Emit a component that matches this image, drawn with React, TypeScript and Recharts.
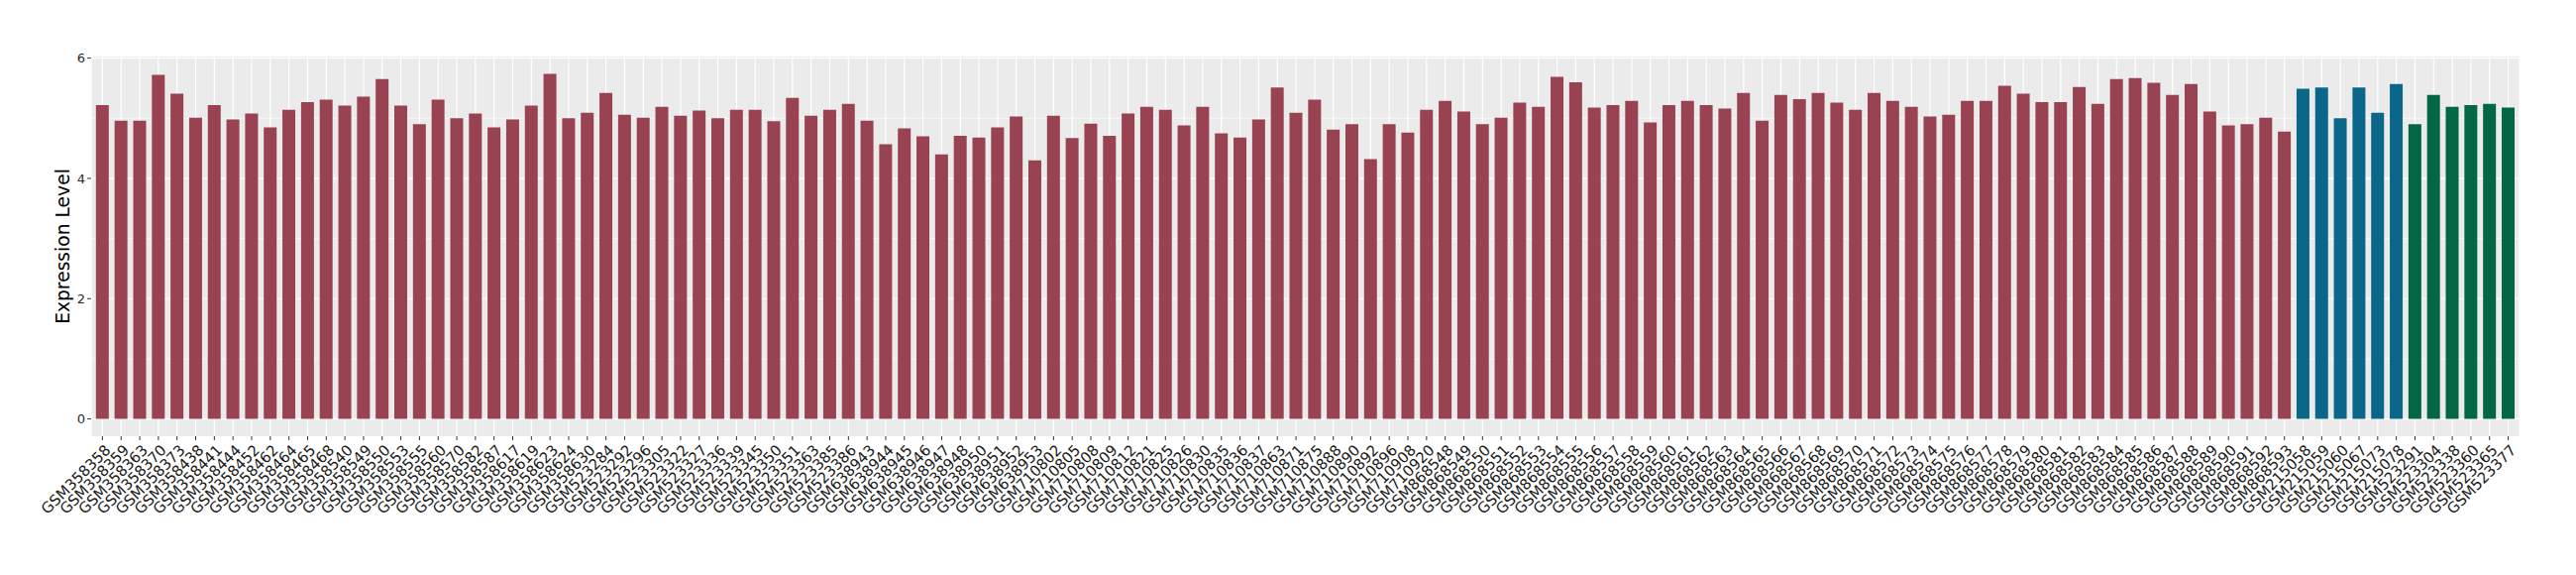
import { BarChart, Bar, XAxis, YAxis, CartesianGrid, Cell } from "recharts";

// sample ids per group, in plotting order
const redSamples = [
  "GSM358358", "GSM358359", "GSM358363", "GSM358370", "GSM358373", "GSM358438",
  "GSM358441", "GSM358444", "GSM358452", "GSM358462", "GSM358464", "GSM358465",
  "GSM358468", "GSM358540", "GSM358549", "GSM358550", "GSM358553", "GSM358555",
  "GSM358560", "GSM358570", "GSM358582", "GSM358587", "GSM358617", "GSM358619",
  "GSM358623", "GSM358624", "GSM358630",
  "GSM523284", "GSM523292", "GSM523296", "GSM523305", "GSM523322", "GSM523327",
  "GSM523336", "GSM523339", "GSM523345", "GSM523350", "GSM523351", "GSM523363",
  "GSM523385", "GSM523386",
  "GSM638943", "GSM638944", "GSM638945", "GSM638946", "GSM638947", "GSM638948",
  "GSM638950", "GSM638951", "GSM638952", "GSM638953",
  "GSM710802", "GSM710805", "GSM710808", "GSM710809", "GSM710812", "GSM710821",
  "GSM710825", "GSM710826", "GSM710830", "GSM710835", "GSM710836", "GSM710837",
  "GSM710863", "GSM710871", "GSM710875", "GSM710888", "GSM710890", "GSM710892",
  "GSM710896", "GSM710908", "GSM710920",
  "GSM868548", "GSM868549", "GSM868550", "GSM868551", "GSM868552", "GSM868553",
  "GSM868554", "GSM868555", "GSM868556", "GSM868557", "GSM868558", "GSM868559",
  "GSM868560", "GSM868561", "GSM868562", "GSM868563", "GSM868564", "GSM868565",
  "GSM868566", "GSM868567", "GSM868568", "GSM868569", "GSM868570", "GSM868571",
  "GSM868572", "GSM868573", "GSM868574", "GSM868575", "GSM868576", "GSM868577",
  "GSM868578", "GSM868579", "GSM868580", "GSM868581", "GSM868582", "GSM868583",
  "GSM868584", "GSM868585", "GSM868586", "GSM868587", "GSM868588", "GSM868589",
  "GSM868590", "GSM868591", "GSM868592", "GSM868593",
];
const redValues = [
  5.22, 4.96, 4.96, 5.72, 5.41, 5.01, 5.22, 4.98, 5.08, 4.85, 5.14, 5.27,
  5.31, 5.21, 5.36, 5.65, 5.21, 4.9, 5.31, 5.0, 5.08, 4.85, 4.98, 5.21,
  5.74, 5.0, 5.09,
  5.42, 5.06, 5.01, 5.19, 5.04, 5.13, 5.0, 5.14, 5.14, 4.95, 5.34, 5.04,
  5.14, 5.24,
  4.96, 4.57, 4.83, 4.7, 4.4, 4.71, 4.68, 4.85, 5.03, 4.3,
  5.04, 4.67, 4.91, 4.71, 5.08, 5.19, 5.14, 4.88, 5.19, 4.75, 4.68, 4.98,
  5.51, 5.09, 5.31, 4.81, 4.9, 4.32, 4.9, 4.76, 5.14,
  5.29, 5.11, 4.9, 5.01, 5.26, 5.19, 5.69, 5.6, 5.18, 5.22, 5.29, 4.93,
  5.22, 5.29, 5.22, 5.16, 5.42, 4.96, 5.39, 5.32, 5.42, 5.26, 5.14, 5.42,
  5.29, 5.19, 5.03, 5.06, 5.29, 5.29, 5.54, 5.41, 5.27, 5.27, 5.52, 5.24,
  5.65, 5.67, 5.59, 5.39, 5.57, 5.11, 4.88, 4.9, 5.01, 4.78,
];
const blueSamples = ["GSM215058", "GSM215059", "GSM215060", "GSM215067", "GSM215073", "GSM215078"];
const blueValues = [5.49, 5.51, 5.0, 5.51, 5.09, 5.57];
const greenSamples = ["GSM523291", "GSM523304", "GSM523338", "GSM523360", "GSM523365", "GSM523377"];
const greenValues = [4.9, 5.39, 5.19, 5.22, 5.24, 5.18];

const yTicks = [0, 2, 4, 6];
const minorTicks = [1, 3, 5];

const GROUP_COLORS: Record<string, string> = {
  red: "#994251",
  blue: "#0A6789",
  green: "#036745",
};

const data = [
  ...redSamples.map((sample, i) => ({ sample, value: redValues[i], group: "red" })),
  ...blueSamples.map((sample, i) => ({ sample, value: blueValues[i], group: "blue" })),
  ...greenSamples.map((sample, i) => ({ sample, value: greenValues[i], group: "green" })),
];

const FONT = "'DejaVu Sans', 'Liberation Sans', Arial, sans-serif";

function SampleTick({ x, y, payload }: any) {
  return (
    <g transform={`translate(${x + 9},${y + 9})`}>
      <text
        transform="rotate(-45)"
        textAnchor="end"
        fontSize={15}
        fontFamily={FONT}
        fill="#1a1a1a"
      >
        {payload.value}
      </text>
    </g>
  );
}

export default function App() {
  return (
    <div style={{ position: "absolute", left: 0, top: 0, width: 2600, height: 580, background: "#fff" }}>
      <BarChart
        width={2600}
        height={580}
        data={data}
        margin={{ top: 57, right: 57, left: 0, bottom: 10 }}
        barCategoryGap="15%"
      >
        <CartesianGrid
          fill="#EBEBEB"
          fillOpacity={1}
          stroke="#fff"
          strokeWidth={0.6}
          vertical={false}
          horizontalValues={minorTicks}
        />
        <CartesianGrid
          stroke="#fff"
          strokeWidth={1.2}
          horizontalValues={yTicks}
        />
        <XAxis
          dataKey="sample"
          interval={0}
          tick={<SampleTick />}
          tickSize={4}
          tickLine={{ stroke: "#333" }}
          axisLine={false}
          height={130}
          padding={{ left: 2, right: 2 }}
        />
        <YAxis
          type="number"
          domain={[-0.287, 6.027]}
          allowDataOverflow
          ticks={yTicks}
          width={92}
          tickSize={4}
          tickMargin={2}
          tickLine={{ stroke: "#333" }}
          axisLine={false}
          tick={{ fontSize: 13, fontFamily: FONT, fill: "#2b2b2b" }}
          label={{
            value: "Expression Level",
            angle: -90,
            position: "insideLeft",
            offset: 63,
            style: { fontSize: 18.7, fontFamily: FONT, fill: "#000", textAnchor: "middle" },
          }}
        />
        <Bar dataKey="value" isAnimationActive={false}>
          {data.map((entry, index) => (
            <Cell key={`cell-${index}`} fill={GROUP_COLORS[entry.group]} />
          ))}
        </Bar>
      </BarChart>
    </div>
  );
}
